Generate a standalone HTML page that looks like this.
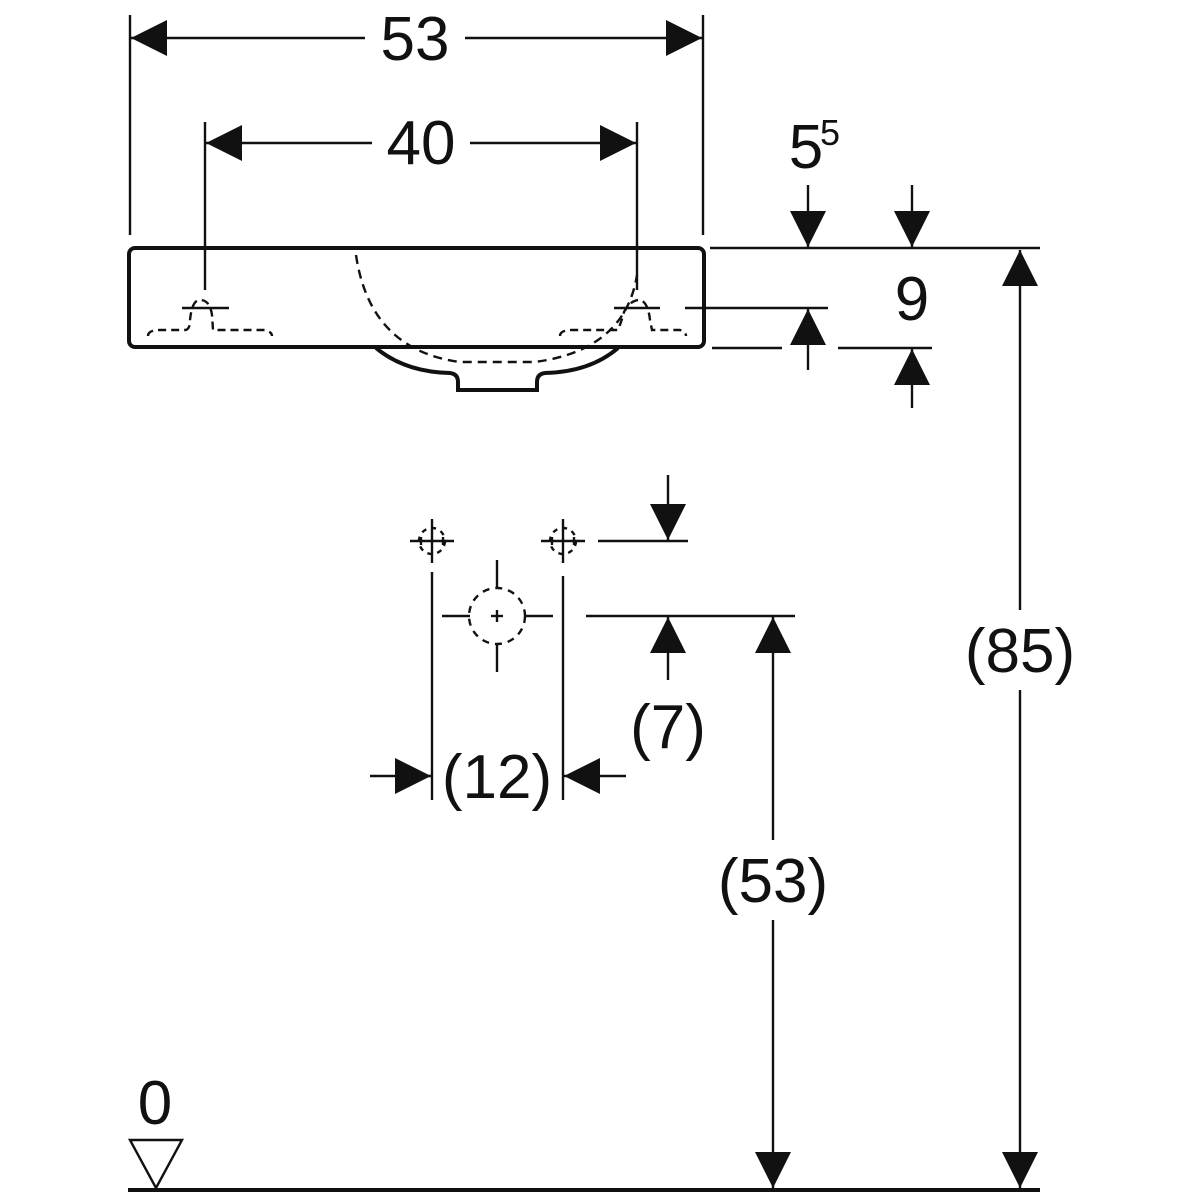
<!DOCTYPE html>
<html><head><style>body{margin:0;background:#fff}svg{display:block}text{font-family:"Liberation Sans",sans-serif;fill:#111;text-anchor:middle}</style></head><body>
<svg width="1200" height="1200" viewBox="0 0 1200 1200">
<defs>
<marker id="a" viewBox="0 0 10 10" refX="10" refY="5" markerWidth="36" markerHeight="36" markerUnits="userSpaceOnUse" orient="auto"><path d="M0,0L10,5L0,10z" fill="#111"/></marker>
</defs>
<g stroke="#111" stroke-width="2.4" fill="none">
<line x1="130" y1="15" x2="130" y2="235"/><line x1="703" y1="15" x2="703" y2="235"/>
<line x1="365" y1="38" x2="131" y2="38" marker-end="url(#a)"/><line x1="465" y1="38" x2="702" y2="38" marker-end="url(#a)"/>
<line x1="205" y1="122" x2="205" y2="290"/><line x1="637" y1="122" x2="637" y2="290"/>
<line x1="372" y1="143" x2="206" y2="143" marker-end="url(#a)"/><line x1="470" y1="143" x2="636" y2="143" marker-end="url(#a)"/>
<rect x="129" y="248" width="575" height="99" rx="6" stroke-width="4"/>
<path d="M376,348 Q405,372 450,373 Q458,374 458,382 L458,390 L537,390 L537,382 Q537,374 545,373 Q590,372 618,348" stroke-width="4"/>
<path d="M356,255 Q370,350 460,362 L535,362 Q625,350 637,275" stroke-dasharray="9,6"/>
<path d="M148,336 Q148,330 160,330 L185,330 Q190,330 190,320 Q192,300 200,300 Q210,300 212,315 L213,330 L265,330 Q272,332 272,336" stroke-dasharray="8,5"/>
<path d="M560,336 Q560,330 572,330 L618,330 Q622,320 624,312 Q630,300 640,300 Q648,302 650,320 L652,330 L680,330 Q686,332 686,336" stroke-dasharray="8,5"/>
<line x1="182" y1="308" x2="229" y2="308"/><line x1="614" y1="308" x2="660" y2="308"/>
<line x1="710" y1="248" x2="1040" y2="248"/>
<line x1="685" y1="308" x2="828" y2="308"/>
<line x1="712" y1="348" x2="782" y2="348"/><line x1="838" y1="348" x2="932" y2="348"/>
<line x1="808" y1="185" x2="808" y2="247" marker-end="url(#a)"/>
<line x1="912" y1="185" x2="912" y2="247" marker-end="url(#a)"/>
<line x1="808" y1="370" x2="808" y2="309" marker-end="url(#a)"/>
<line x1="912" y1="408" x2="912" y2="349" marker-end="url(#a)"/>
<line x1="1020" y1="610" x2="1020" y2="250" marker-end="url(#a)"/>
<line x1="1020" y1="690" x2="1020" y2="1188" marker-end="url(#a)"/>
<circle cx="432" cy="541" r="13" stroke-dasharray="5,5"/><line x1="410" y1="541" x2="454" y2="541"/><line x1="432" y1="519" x2="432" y2="563"/>
<line x1="421" y1="537" x2="421" y2="545"/><line x1="443" y1="537" x2="443" y2="545"/>
<circle cx="563" cy="541" r="13" stroke-dasharray="5,5"/><line x1="541" y1="541" x2="585" y2="541"/><line x1="563" y1="519" x2="563" y2="563"/>
<line x1="552" y1="537" x2="552" y2="545"/><line x1="574" y1="537" x2="574" y2="545"/>
<circle cx="497" cy="616" r="28" stroke-dasharray="7,6"/>
<line x1="442" y1="616" x2="470" y2="616"/><line x1="524" y1="616" x2="553" y2="616"/>
<line x1="497" y1="560" x2="497" y2="588"/><line x1="497" y1="644" x2="497" y2="672"/>
<line x1="491" y1="616" x2="503" y2="616"/><line x1="497" y1="610" x2="497" y2="622"/>
<line x1="432" y1="572" x2="432" y2="800"/><line x1="563" y1="576" x2="563" y2="800"/>
<line x1="598" y1="541" x2="688" y2="541"/>
<line x1="668" y1="475" x2="668" y2="540" marker-end="url(#a)"/>
<line x1="586" y1="616" x2="795" y2="616"/>
<line x1="668" y1="680" x2="668" y2="617" marker-end="url(#a)"/>
<line x1="773" y1="840" x2="773" y2="617" marker-end="url(#a)"/>
<line x1="773" y1="920" x2="773" y2="1188" marker-end="url(#a)"/>
<line x1="370" y1="776" x2="431" y2="776" marker-end="url(#a)"/>
<line x1="626" y1="776" x2="564" y2="776" marker-end="url(#a)"/>
<line x1="128" y1="1190" x2="1040" y2="1190" stroke-width="4"/>
<path d="M130,1140 L182,1140 L156,1188 Z"/>
</g>
<g font-size="62">
<text x="415" y="60">53</text>
<text x="421" y="164">40</text>
<text x="806" y="168">5</text><text x="830" y="145" font-size="36">5</text>
<text x="912" y="320">9</text>
<text x="1020" y="672">(85)</text>
<text x="668" y="748">(7)</text>
<text x="497" y="798">(12)</text>
<text x="773" y="902">(53)</text>
<text x="155" y="1124">0</text>
</g>
</svg>
</body></html>
